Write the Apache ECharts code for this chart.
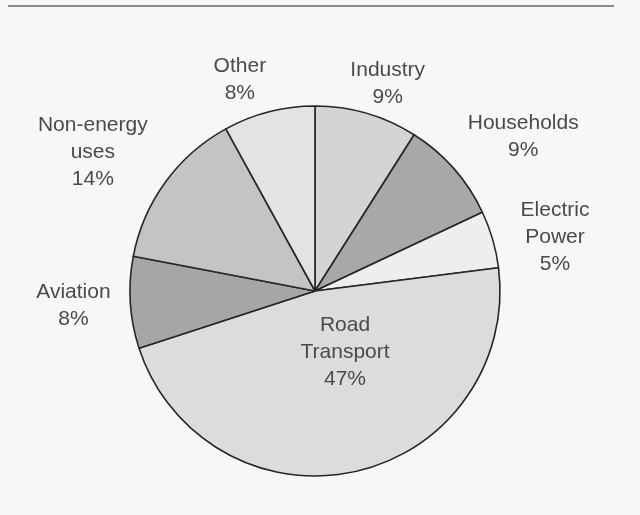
<!DOCTYPE html>
<html>
<head>
<meta charset="utf-8">
<script src="https://cdn.jsdelivr.net/npm/echarts@6/dist/echarts.min.js"></script>
<style>
html,body{margin:0;padding:0;background:#f7f7f7;}
#chart{width:640px;height:515px;}
</style>
</head>
<body>
<div id="chart"></div>
<script>
// Data
const categories = ['Industry', 'Households', 'Electric\nPower', 'Road\nTransport', 'Aviation', 'Non-energy\nuses', 'Other'];
const shares = [9, 9, 5, 47, 8, 14, 8];

// Styles
const sliceColors = ['#d4d4d4', '#a8a8a8', '#eeeeee', '#dcdcdc', '#a6a6a6', '#c4c4c4', '#e3e3e3'];
const labelRadius = [220, 259, 246, 68, 242, 262, 224];
const labelAngleNudge = [-3.1, -4.9, -3.5, 13.6, 0, 4, 5.2];

const CX = 315, CY = 291, R = 185, START = 90;
const total = shares.reduce((a, b) => a + b, 0);
const midAngles = [];
let cum = 0;
shares.forEach(v => { midAngles.push(START - 360 * (cum + v / 2) / total); cum += v; });

const chart = echarts.init(document.getElementById('chart'));
chart.setOption({
  backgroundColor: '#f7f7f7',
  animation: false,
  graphic: [{
    type: 'line',
    shape: {x1: 8, y1: 6, x2: 614, y2: 6},
    style: {stroke: '#8a8a8a', lineWidth: 2}
  }],
  series: [{
    type: 'pie',
    center: [CX, CY],
    radius: R,
    startAngle: START,
    clockwise: true,
    avoidLabelOverlap: false,
    data: categories.map((c, i) => ({
      name: c,
      value: shares[i],
      itemStyle: {color: sliceColors[i]}
    })),
    itemStyle: {borderColor: '#262626', borderWidth: 1.6},
    label: {
      show: true,
      position: 'outside',
      formatter: p => p.name + '\n' + p.value + '%',
      fontFamily: 'Liberation Sans, Arial, sans-serif',
      fontSize: 21,
      lineHeight: 27,
      color: '#4a4a4a',
      align: 'center'
    },
    labelLine: {show: false},
    labelLayout: function (params) {
      const i = params.dataIndex;
      const a = (midAngles[i] + labelAngleNudge[i]) * Math.PI / 180;
      return {
        x: CX + labelRadius[i] * Math.cos(a),
        y: CY - labelRadius[i] * Math.sin(a),
        align: 'center',
        verticalAlign: 'middle'
      };
    },
    emphasis: {disabled: true}
  }]
});
</script>
</body>
</html>
